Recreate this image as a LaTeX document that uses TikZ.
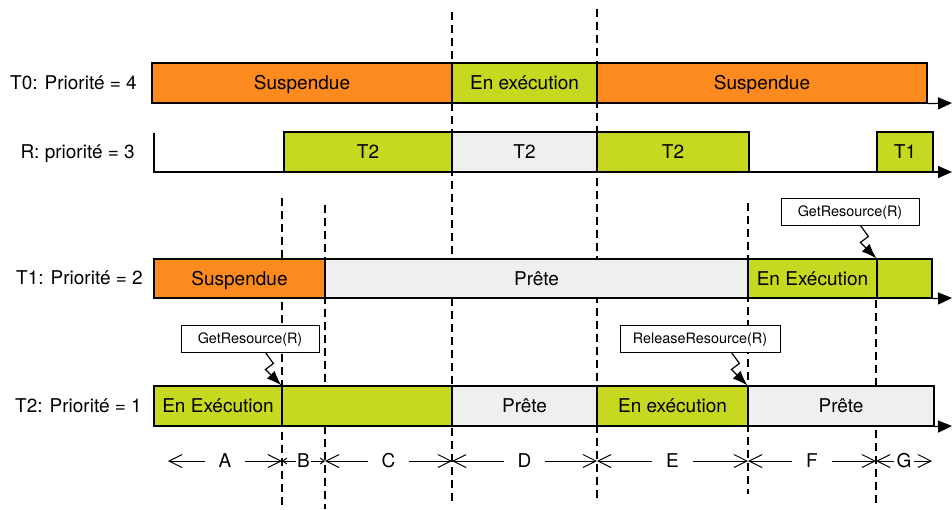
\documentclass[tikz,border=0pt]{standalone}
\usepackage{fontspec}
\setmainfont{TeX Gyre Heros}
\usepackage{xcolor}
\usepackage{tikz}
\usetikzlibrary{arrows.meta,calc,positioning,fit}

\definecolor{orangeS}{RGB}{252,138,30}
\definecolor{vertE}{RGB}{198,216,31}
\definecolor{grisP}{RGB}{239,239,239}

\begin{document}
\begin{tikzpicture}[x=1pt,y=-1pt,
	axe/.style = {line width=1.2pt,-{Triangle[length=14pt,width=12pt]}},
	eclair/.style = {line width=1.2pt,-{Latex[length=15pt,width=11pt]}},
	duree/.style = {line width=1pt,{Straight Barb[length=13pt,width=13pt]}-{Straight Barb[length=13pt,width=13pt]}},
	limite/.style = {line width=1.1pt,dash pattern=on 8pt off 5pt}]
					\tikzset{etat/.style={draw=black,line width=1.2pt,inner sep=0pt}}
					\tikzset{susp/.style={etat,fill=orangeS},exec/.style={etat,fill=vertE},prete/.style={etat,fill=grisP}}
					\tikzset{texte/.style={inner sep=0pt,text height=13.6pt,text depth=0pt,font=\fontsize{19}{22}\selectfont}}
					\tikzset{appel/.style={draw=black,line width=0.9pt,fill=white,inner sep=0pt}}
					\tikzset{petit/.style={inner sep=0pt,text height=10.3pt,text depth=0pt,font=\fontsize{14.4}{17}\selectfont}}
					\tikzset{tache/.style={texte,anchor=east}}
					\tikzset{lettre/.style={texte,fill=white,inner ysep=2pt,inner xsep=14pt}}

					\useasboundingbox (0,0) rectangle (952,509);

					% Limites
					\coordinate (l1h) at (282,198); \coordinate (l1b) at (282,509);
					\coordinate (l2h) at (325,205); \coordinate (l2b) at (325,509);
					\coordinate (l3h) at (452,12);  \coordinate (l3b) at (452,503);
					\coordinate (l4h) at (597,9);   \coordinate (l4b) at (597,503);
					\coordinate (l5h) at (748,203); \coordinate (l5b) at (748,494);
					\coordinate (l6h) at (876,300); \coordinate (l6b) at (876,503);
					\foreach \i in {1,...,6}
						\draw [limite] (l\i h) -- (l\i b);

					% Axes
					\coordinate (fin0) at (952,103);
					\coordinate (debR) at (154,133); \coordinate (finR) at (952,172);
					\coordinate (fin1) at (952,298);
					\coordinate (fin2) at (952,426);
					\draw [axe] (debR) |- (finR);

					% T0
					\node[fit={(152,63) (452,103)}, susp, label={[texte]center:Suspendue}] (t0a) {};
					\node[fit={(452,63) (597,103)}, exec, label={[texte]center:En exécution}] (t0b) {};
					\node[fit={(597,63) (927,103)}, susp, label={[texte]center:Suspendue}] (t0c) {};
					\draw [axe] (t0c.south east) -- (fin0);
					\node[tache] (lt0) at (137,83) {T0: Priorité = 4};

					% R
					\node[fit={(284,132) (452,172)}, exec, label={[texte]center:T2}] (ra) {};
					\node[fit={(452,132) (597,172)}, prete, label={[texte]center:T2}] (rb) {};
					\node[fit={(597,132) (749,172)}, exec, label={[texte]center:T2}] (rc) {};
					\node[fit={(877,132) (933,172)}, exec, label={[texte]center:T1}] (rd) {};
					\node[tache] (lr) at (135,152) {R: priorité = 3};

					% T1
					\node[fit={(154,259) (325,298)}, susp, label={[texte]center:Suspendue}] (t1a) {};
					\node[fit={(325,259) (748,298)}, prete, label={[texte]center:Prête}] (t1b) {};
					\node[fit={(748,259) (877,298)}, exec, label={[texte]center:En Exécution}] (t1c) {};
					\node[fit={(877,259) (932,298)}, exec] (t1d) {};
					\draw [axe] (t1d.south east) -- (fin1);
					\node[tache] (lt1) at (143,278) {T1: Priorité = 2};

					% T2
					\node[fit={(154,386) (282,426)}, exec, label={[texte]center:En Exécution}] (t2a) {};
					\node[fit={(282,386) (452,426)}, exec] (t2b) {};
					\node[fit={(452,386) (597,426)}, prete, label={[texte]center:Prête}] (t2c) {};
					\node[fit={(597,386) (748,426)}, exec, label={[texte]center:En exécution}] (t2d) {};
					\node[fit={(748,386) (934,426)}, prete, label={[texte]center:Prête}] (t2e) {};
					\draw [axe] (t2e.south east) -- (fin2);
					\node[tache] (lt2) at (142,406) {T2: Priorité = 1};

					% Appels
					\node[fit={(781,198) (919,225)}, appel, label={[petit]center:GetResource(R)}] (getT1) {};
					\node[fit={(181,325) (319,352)}, appel, label={[petit]center:GetResource(R)}] (getT2) {};
					\node[fit={(620,325) (780,352)}, appel, label={[petit]center:ReleaseResource(R)}] (relT2) {};

					\draw [eclair] (getT1.south -| t1d.north west) ++(-16,0) -- ++(8,11) -- ++(-8,6) -- (t1d.north west);
					\draw [eclair] (getT2.south -| t2b.north west) ++(-16,0) -- ++(8,11) -- ++(-8,6) -- (t2b.north west);
					\draw [eclair] (relT2.south -| t2e.north west) ++(-16,0) -- ++(8,11) -- ++(-8,6) -- (t2e.north west);

					% Durees
					\coordinate (s0) at (168,461);
					\coordinate (s1) at (282,461);
					\coordinate (s2) at (325,461);
					\coordinate (s3) at (452,461);
					\coordinate (s4) at (597,461);
					\coordinate (s5) at (748,461);
					\coordinate (s6) at (876,461);
					\coordinate (s7) at (932,461);
					\draw [duree] (s0) -- node[lettre] (dA) {A} (s1);
					\draw [duree, {Straight Barb[length=4pt,width=6pt]}-{Straight Barb[length=4pt,width=6pt]}] (s1) -- node[lettre, inner xsep=1pt] (dB) {B} (s2);
					\draw [duree] (s2) -- node[lettre] (dC) {C} (s3);
					\draw [duree] (s3) -- node[lettre] (dD) {D} (s4);
					\draw [duree] (s4) -- node[lettre] (dE) {E} (s5);
					\draw [duree] (s5) -- node[lettre] (dF) {F} (s6);
					\draw [duree] (s6) -- node[lettre, inner xsep=3pt] (dG) {G} (s7);

				\end{tikzpicture}
\end{document}
